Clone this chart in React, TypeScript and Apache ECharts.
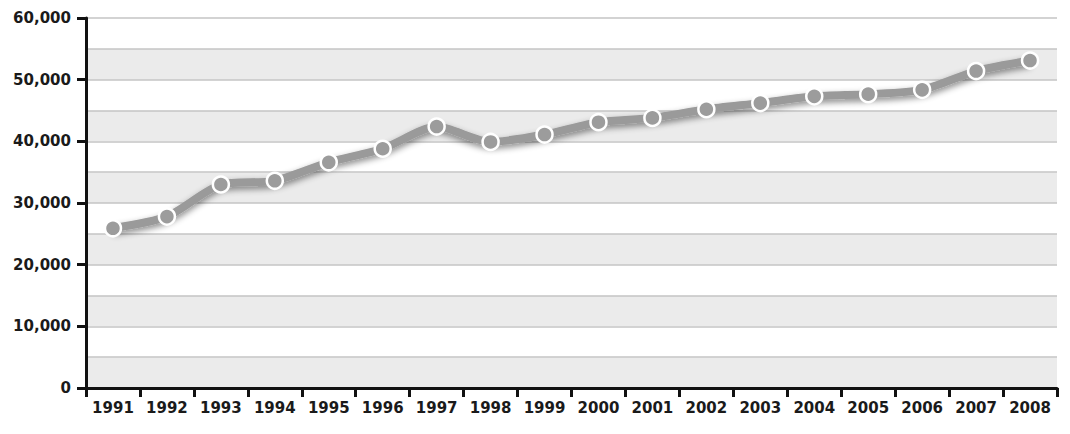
import React, { useEffect, useRef } from "react";
import * as echarts from "echarts";

const years = ["1991","1992","1993","1994","1995","1996","1997","1998","1999","2000","2001","2002","2003","2004","2005","2006","2007","2008"];
const values = [25900, 27800, 33000, 33600, 36600, 38800, 42400, 39900, 41100, 43100, 43800, 45200, 46200, 47300, 47650, 48350, 51400, 53100];
const yMin = 0;
const yMax = 60000;
const bandStep = 5000;
const labelStep = 10000;

export default function App() {
  const ref = useRef<HTMLDivElement>(null);
  useEffect(() => {
    if (!ref.current) return;
    const chart = echarts.init(ref.current, null, { renderer: "svg" });
    const font = { fontFamily: "DejaVu Sans", fontWeight: "bold" as const, fontSize: 15, color: "#1a1a1a" };
    chart.setOption({
      animation: false,
      backgroundColor: "#ffffff",
      grid: { left: 86, right: 13, top: 18, bottom: 46, containLabel: false },
      xAxis: {
        type: "category",
        data: years,
        boundaryGap: true,
        axisLine: { show: true, lineStyle: { color: "#111", width: 3 } },
        axisTick: { show: true, alignWithLabel: false, length: 9, lineStyle: { color: "#111", width: 3 } },
        axisLabel: { ...font, margin: 12, interval: 0 },
        splitLine: { show: false },
        z: 5,
      },
      yAxis: [
        {
          type: "value",
          min: yMin,
          max: yMax,
          interval: bandStep,
          position: "left",
          axisLine: { show: false },
          axisTick: { show: false },
          axisLabel: { show: false },
          splitLine: { show: true, lineStyle: { color: "#c4c4c4", width: 1.5 } },
          splitArea: { show: true, areaStyle: { color: ["#ebebeb", "#ffffff"] } },
        },
        {
          type: "value",
          min: yMin,
          max: yMax,
          interval: labelStep,
          position: "left",
          offset: 0,
          axisLine: { show: true, lineStyle: { color: "#111", width: 3 } },
          axisTick: { show: true, length: 9, lineStyle: { color: "#111", width: 3 } },
          axisLabel: {
            ...font,
            margin: 15,
            formatter: (v: number) => v.toLocaleString("en-US"),
          },
          splitLine: { show: false },
          splitArea: { show: false },
          z: 5,
        },
      ],
      series: [
        {
          type: "line",
          yAxisIndex: 0,
          data: values,
          smooth: 0.25,
          symbol: "circle",
          symbolSize: 16,
          lineStyle: {
            color: "#9a9a9a",
            width: 8,
            shadowColor: "rgba(0,0,0,0.45)",
            shadowBlur: 6,
            shadowOffsetY: 3,
          },
          itemStyle: {
            color: "#9c9c9c",
            borderColor: "#ffffff",
            borderWidth: 2.5,
          },
          z: 3,
        },
      ],
    });
    return () => chart.dispose();
  }, []);
  return (
    <div
      ref={ref}
      style={{ position: "fixed", left: 0, top: 0, width: 1070, height: 434 }}
    />
  );
}
